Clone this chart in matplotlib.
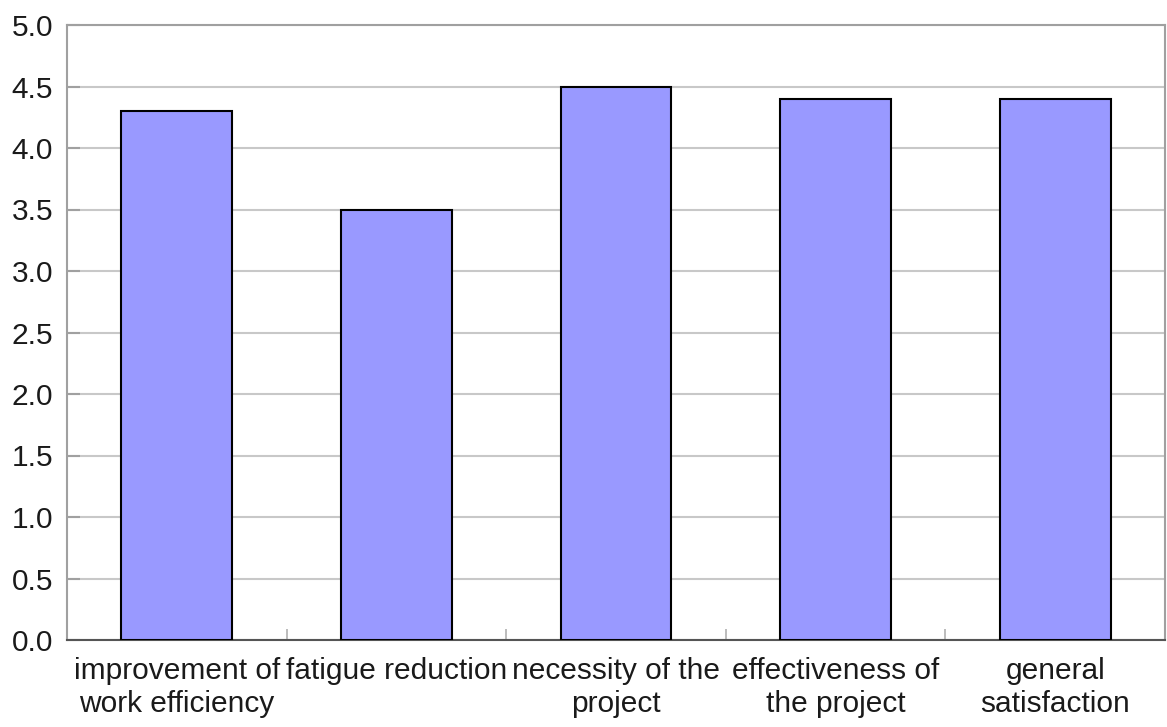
import matplotlib
matplotlib.use("Agg")
import matplotlib.pyplot as plt
import numpy as np

categories = ["improvement of\nwork efficiency", "fatigue reduction",
              "necessity of the\nproject", "effectiveness of\nthe project",
              "general\nsatisfaction"]
values = [4.3, 3.5, 4.5, 4.4, 4.4]
yticks = [0.0, 0.5, 1.0, 1.5, 2.0, 2.5, 3.0, 3.5, 4.0, 4.5, 5.0]

plt.rcParams['font.family'] = ['Liberation Sans', 'DejaVu Sans']

fig = plt.figure(figsize=(11.67, 7.27), dpi=100)
ax = fig.add_axes([67/1167, 1-640/727, 1-67/1167-2/1167, (640-25)/727])

x = np.arange(len(categories))
ax.bar(x, values, width=0.505, color='#9999FF', edgecolor='black', linewidth=1.5, zorder=3)

ax.set_xlim(-0.5, len(categories)-0.5)
ax.set_ylim(0, 5)
ax.set_yticks(yticks)
ax.set_yticklabels([f"{v:.1f}" for v in yticks], fontsize=21.5, color='#1a1a1a')
ax.yaxis.grid(True, color='#c8c8c8', linewidth=1.5, zorder=0)
ax.tick_params(axis='y', direction='in', length=9, width=1.5, color='#a0a0a0', pad=10)

ax.set_xticks(x)
ax.set_xticklabels(categories, fontsize=21.5, color='#1a1a1a', linespacing=1.22)
ax.tick_params(axis='x', which='major', length=0, pad=12)
ax.set_xticks(np.arange(0.5, len(categories)-0.5, 1), minor=True)
ax.tick_params(axis='x', which='minor', direction='in', length=8, width=1.2, color='#b0b0b0')

for s in ['left', 'top', 'right']:
    ax.spines[s].set_color('#a0a0a0')
    ax.spines[s].set_linewidth(1.5)
ax.spines['bottom'].set_color('#555555')
ax.spines['bottom'].set_linewidth(1.5)

fig.savefig("out.png", dpi=100)
